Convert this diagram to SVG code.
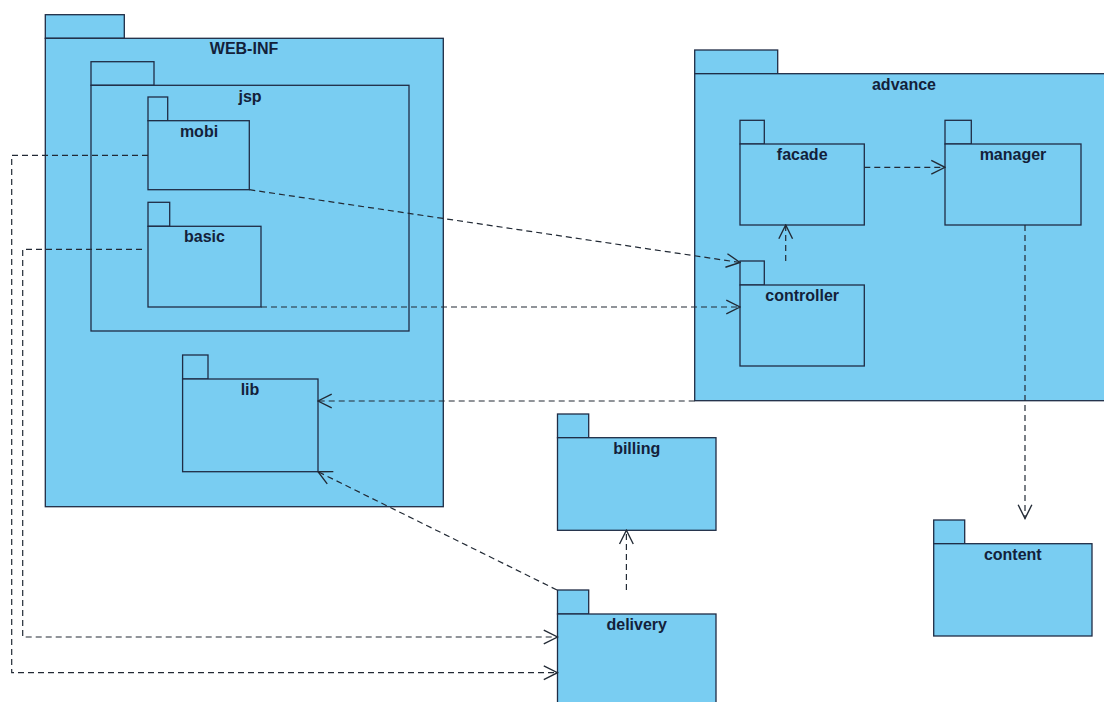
<svg xmlns="http://www.w3.org/2000/svg" width="1104" height="702" viewBox="0 0 1104 702">
<defs>
<style>
.pk{fill:#79cdf2;stroke:#1f2c45;stroke-width:1.3}
.lb{font-family:"Liberation Sans",Arial,sans-serif;font-weight:bold;font-size:16px;fill:#13213a;text-anchor:middle}
.dep{fill:none;stroke:#222a35;stroke-width:1.2;stroke-dasharray:6,4}
</style>
<marker id="ah" markerUnits="userSpaceOnUse" markerWidth="16" markerHeight="16" viewBox="0 0 14 14" refX="13" refY="7" orient="auto">
<path d="M1,1 L13,7 L1,13" fill="none" stroke="#222a35" stroke-width="1.2"/>
</marker>
</defs>
<rect width="1104" height="702" fill="#ffffff"/>

<g id="WEB-INF">
<rect class="pk" x="45.3" y="14.7" width="79" height="23.6"/>
<rect class="pk" x="45.3" y="38.3" width="398" height="468.4"/>
<text class="lb" x="244" y="54">WEB-INF</text>
</g>
<g id="jsp">
<rect class="pk" x="91" y="61.7" width="63" height="23.6"/>
<rect class="pk" x="91" y="85.3" width="318" height="245.7"/>
<text class="lb" x="250" y="101.7">jsp</text>
</g>
<g id="mobi">
<rect class="pk" x="148" y="97" width="19.7" height="23.7"/>
<rect class="pk" x="148" y="120.7" width="101.3" height="69"/>
<text class="lb" x="199" y="136.7">mobi</text>
</g>
<g id="basic">
<rect class="pk" x="148" y="202.3" width="21.7" height="24"/>
<rect class="pk" x="148" y="226.3" width="113" height="80.7"/>
<text class="lb" x="204.5" y="242.3">basic</text>
</g>
<g id="lib">
<rect class="pk" x="182.6" y="355" width="25.4" height="24"/>
<rect class="pk" x="182.6" y="379" width="135.4" height="92.7"/>
<text class="lb" x="250" y="395">lib</text>
</g>

<g id="advance">
<rect class="pk" x="694.7" y="50" width="83" height="23.7"/>
<rect class="pk" x="694.7" y="73.7" width="418" height="327"/>
<text class="lb" x="904" y="89.5">advance</text>
</g>
<g id="facade">
<rect class="pk" x="740" y="120.3" width="24.3" height="23.7"/>
<rect class="pk" x="740" y="144" width="124.3" height="81"/>
<text class="lb" x="802.2" y="160">facade</text>
</g>
<g id="manager">
<rect class="pk" x="945" y="120.3" width="26.3" height="23.7"/>
<rect class="pk" x="945" y="144" width="136" height="81"/>
<text class="lb" x="1013" y="160">manager</text>
</g>
<g id="controller">
<rect class="pk" x="740" y="261" width="24.3" height="24"/>
<rect class="pk" x="740" y="285" width="124.3" height="81"/>
<text class="lb" x="802.2" y="301">controller</text>
</g>

<g id="billing">
<rect class="pk" x="557.5" y="414" width="31.2" height="23.7"/>
<rect class="pk" x="557.5" y="437.7" width="158.5" height="92.6"/>
<text class="lb" x="636.7" y="453.7">billing</text>
</g>
<g id="delivery">
<rect class="pk" x="557.5" y="590" width="31.2" height="24"/>
<rect class="pk" x="557.5" y="614" width="158.5" height="100"/>
<text class="lb" x="636.7" y="630">delivery</text>
</g>
<g id="content">
<rect class="pk" x="933.7" y="520" width="31" height="23.7"/>
<rect class="pk" x="933.7" y="543.7" width="158.3" height="92.3"/>
<text class="lb" x="1012.8" y="559.7">content</text>
</g>

<g id="connectors">
<path class="dep" d="M864.3,167.3 L945,167.3" marker-end="url(#ah)"/>
<path class="dep" d="M785.7,261 L785.7,225" marker-end="url(#ah)"/>
<path class="dep" d="M1025,225 L1025,518.5" marker-end="url(#ah)"/>
<path class="dep" d="M249.3,189.7 L740,262.5" marker-end="url(#ah)"/>
<path class="dep" d="M261,307 L740,307" marker-end="url(#ah)"/>
<path class="dep" d="M694.7,401 L318,401" marker-end="url(#ah)"/>
<path class="dep" d="M557,590 L318,471.7" marker-end="url(#ah)"/>
<path class="dep" d="M626.4,590 L626.4,530.3" marker-end="url(#ah)"/>
<path class="dep" d="M148,155.3 L11.7,155.3 L11.7,672.7 L557.5,672.7" marker-end="url(#ah)"/>
<path class="dep" d="M142,249.3 L22.7,249.3 L22.7,637 L557.5,637" marker-end="url(#ah)"/>
</g>
</svg>
